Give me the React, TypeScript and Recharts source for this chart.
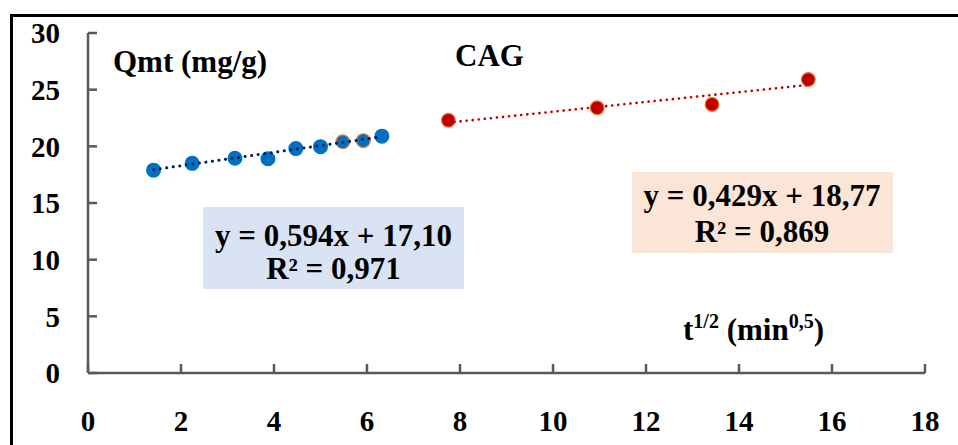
import { ScatterChart, Scatter, XAxis, YAxis, Cell } from "recharts";

// t^1/2 (min^0.5) and Qmt (mg/g)
const blueX = [1.41, 2.24, 3.16, 3.87, 4.47, 5.0, 5.48, 5.92, 6.32];
const blueY = [17.9, 18.5, 18.95, 18.9, 19.8, 19.97, 20.4, 20.5, 20.9];
const redX = [7.75, 10.95, 13.42, 15.49];
const redY = [22.3, 23.4, 23.7, 25.9];

// trend line end points
const blueFitX = [1.41, 6.32];
const blueFitY = [17.94, 20.85];
const redFitX = [7.75, 15.49];
const redFitY = [22.09, 25.42];

const xTicks = [0, 2, 4, 6, 8, 10, 12, 14, 16, 18];
const yTicks = [0, 5, 10, 15, 20, 25, 30];

const blueEq = "y = 0,594x + 17,10";
const blueR2 = "R² = 0,971";
const redEq = "y = 0,429x + 18,77";
const redR2 = "R² = 0,869";

const toPts = (xs: number[], ys: number[]) => xs.map((x, i) => ({ x, y: ys[i] }));

const blueData = toPts(blueX, blueY);
const redData = toPts(redX, redY);
const blueFit = toPts(blueFitX, blueFitY);
const redFit = toPts(redFitX, redFitY);

const FONT = '"Liberation Serif", "Times New Roman", serif';
const AXIS = "#595959";

const dot = (props: any) => (
  <circle cx={props.cx} cy={props.cy} r={6.9} fill={props.fill} stroke={props.stroke} strokeWidth={1.2} />
);

const App = () => {
  const tickStyle = { fontFamily: FONT, fontWeight: 700, fontSize: 29, fill: "#000" };
  return (
    <div style={{ position: "absolute", left: 0, top: 0, width: 958, height: 445, overflow: "hidden", background: "#fff" }}>
      <div
        style={{
          position: "absolute",
          left: 10,
          top: 14,
          width: 948,
          height: 431,
          borderLeft: "3px solid #000",
          borderTop: "3px solid #000",
        }}
      />
      <div style={{ position: "absolute", left: 0, top: 0 }}>
        <ScatterChart width={958} height={445} margin={{ top: 33, right: 33, bottom: 0, left: 28 }}>
          <XAxis
            type="number"
            dataKey="x"
            domain={[0, 18]}
            ticks={xTicks}
            height={72}
            stroke={AXIS}
            strokeWidth={2.5}
            tickSize={-9}
            tickMargin={46}
            tick={tickStyle}
            interval={0}
            allowDataOverflow
          />
          <YAxis
            type="number"
            dataKey="y"
            domain={[0, 30]}
            ticks={yTicks}
            width={60}
            stroke={AXIS}
            strokeWidth={2.5}
            tickSize={-9}
            tickMargin={37}
            tick={tickStyle}
            interval={0}
            allowDataOverflow
          />
          <Scatter data={blueData} shape={dot} isAnimationActive={false}>
            {blueData.map((_, i) => (
              <Cell key={i} fill="#0070C0" stroke={i === 6 || i === 7 ? "#ED7D31" : "#0070C0"} />
            ))}
          </Scatter>
          <Scatter data={redData} shape={dot} isAnimationActive={false}>
            {redData.map((_, i) => (
              <Cell key={i} fill="#C00000" stroke="#ED7D31" />
            ))}
          </Scatter>
          <Scatter
            data={blueFit}
            shape={() => <g />}
            line={{ stroke: "#002060", strokeWidth: 3, strokeDasharray: "0.1 6.5", strokeLinecap: "round" }}
            isAnimationActive={false}
          />
          <Scatter
            data={redFit}
            shape={() => <g />}
            line={{ stroke: "#C00000", strokeWidth: 2.6, strokeDasharray: "0.1 6", strokeLinecap: "round" }}
            isAnimationActive={false}
          />
        </ScatterChart>
      </div>
      <svg
        width={958}
        height={445}
        style={{ position: "absolute", left: 0, top: 0, pointerEvents: "none" }}
        fontFamily={FONT}
        fontWeight={700}
      >
        <text x={113} y={72} fontSize={31}>Qmt (mg/g)</text>
        <text x={455} y={66} fontSize={31}>CAG</text>

        <rect x={203} y={207} width={261} height={82} fill="#DAE3F3" />
        <text x={333.5} y={246} fontSize={31} textAnchor="middle">{blueEq}</text>
        <text x={333.5} y={279} fontSize={31} textAnchor="middle">{blueR2}</text>

        <rect x={632} y={172} width={261} height={81} fill="#FBE5D6" />
        <text x={762} y={206} fontSize={31} textAnchor="middle">{redEq}</text>
        <text x={762} y={242} fontSize={31} textAnchor="middle">{redR2}</text>

        <text x={683} y={340} fontSize={31}>
          t<tspan fontSize={20} dy={-12}>1/2</tspan>
          <tspan dy={12}> (min</tspan>
          <tspan fontSize={20} dy={-12}>0,5</tspan>
          <tspan dy={12}>)</tspan>
        </text>
      </svg>
    </div>
  );
};

export default App;
